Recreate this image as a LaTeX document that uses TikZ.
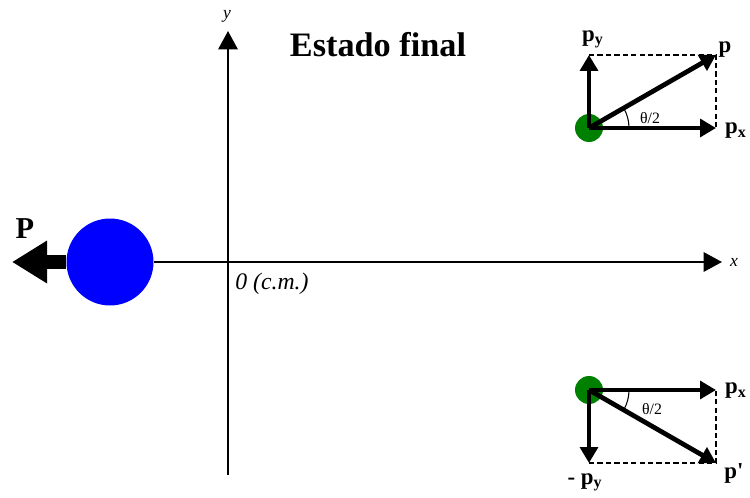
\documentclass[tikz,border=0pt]{standalone}
\usepackage{fontspec}
\setmainfont{Liberation Serif}
\usetikzlibrary{arrows.meta,positioning,calc}

\tikzset{
  axis/.style={line width=1.4pt,-{Triangle[length=10.5pt,width=11pt]}},
  vec/.style={line width=2.7pt,-{Triangle[length=9pt,width=10pt]}},
  bigvec/.style={line width=8.5pt,-{Triangle[length=20pt,width=23pt]}},
  proj/.style={dash pattern=on 3pt off 1.8pt,line width=0.6pt},
  particle/.style={circle,fill=green!50!black,minimum size=0.56cm,inner sep=0pt},
  lbl/.style={font=\fontsize{13}{15}\selectfont\bfseries,inner sep=1pt},
  ang/.style={font=\fontsize{9}{11}\selectfont}
}

\begin{document}
\begin{tikzpicture}[x=0.02cm,y=0.02cm]
\useasboundingbox (0,0) rectangle (750,497);

% Axes
\coordinate (xend) at (722,235);
\coordinate (ytop) at (228,466);
\coordinate (ybot) at (228,22);
\node[circle,fill=blue,minimum size=1.74cm,inner sep=0pt] (M) at (110,235) {};
\draw[axis] (M.east) -- (xend);
\draw[axis] (ybot) -- (ytop);
\node[font=\itshape] (xl) at (734,235) {x};
\node[font=\itshape] (yl) at (227,481) {y};
\node[font=\fontsize{13.5}{15}\selectfont\itshape,anchor=west,inner sep=0pt] (cm) at (235,213) {0 (c.m.)};
\node[font=\fontsize{19.5}{22}\selectfont\bfseries] (title) at (378,452) {Estado final};

% Heavy particle
\coordinate (Ptip) at (12,235);
\draw[bigvec] (M.west) -- (Ptip);
\node[font=\LARGE\bfseries] (Pl) at (25,268) {P};

% Upper particle
\node[particle] (A) at (589,369) {};
\coordinate (Ax) at (716,369);
\coordinate (Ay) at (589,442);
\coordinate (Ap) at (716,442);
\draw[proj] (Ay) -- (Ap) -- (Ax);
\draw[vec] (A.center) -- (Ax);
\draw[vec] (A.center) -- (Ay);
\draw[vec] (A.center) -- (Ap);
\draw[line width=0.6pt] ($(A.center)+(40,0)$) arc[start angle=0,end angle=29.9,radius=40];
\node[lbl] (Ayl) at (593,458) {p\textsubscript{y}};
\node[lbl] (Apl) at (725,447) {p};
\node[lbl] (Axl) at (736,366) {p\textsubscript{x}};
\node[ang] (At) at (650,379) {θ/2};

% Lower particle
\node[particle] (B) at (589,107) {};
\coordinate (Bx) at (716,107);
\coordinate (By) at (589,34);
\coordinate (Bp) at (716,34);
\draw[proj] (By) -- (Bp) -- (Bx);
\draw[vec] (B.center) -- (Bx);
\draw[vec] (B.center) -- (By);
\draw[vec] (B.center) -- (Bp);
\draw[line width=0.6pt] ($(B.center)+(40,0)$) arc[start angle=0,end angle=-29.9,radius=40];
\node[lbl] (Bxl) at (736,106) {p\textsubscript{x}};
\node[lbl] (Byl) at (585,15) {- p\textsubscript{y}};
\node[lbl] (Bpl) at (734,24) {p\textquotesingle};
\node[ang] (Bt) at (652,88) {θ/2};
\end{tikzpicture}
\end{document}
